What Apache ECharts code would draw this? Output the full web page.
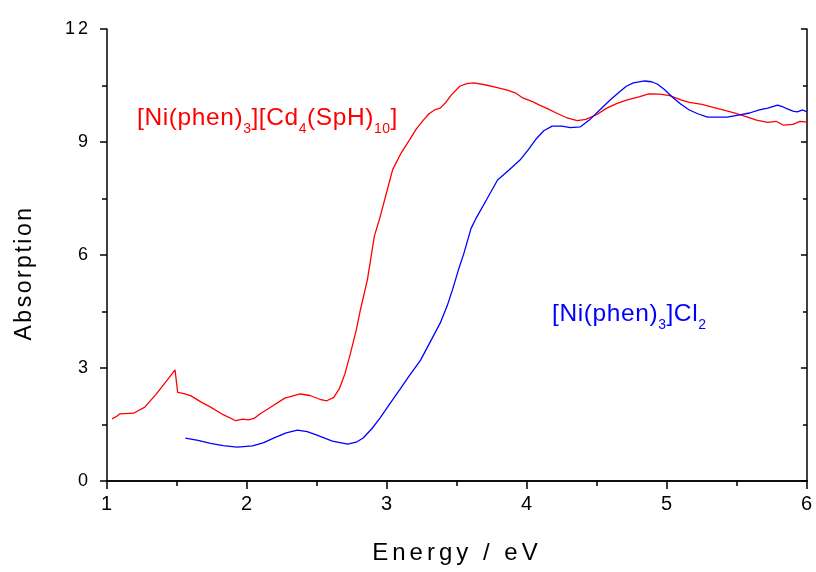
<!DOCTYPE html>
<html><head><meta charset="utf-8">
<script src="https://cdn.jsdelivr.net/npm/echarts@6/dist/echarts.min.js"></script>
<style>html,body{margin:0;padding:0;background:#fff}#c{width:816px;height:572px}</style>
</head><body><div id="c"></div>
<script>
const xTicks = [1, 2, 3, 4, 5, 6];
const yTicks = [0, 3, 6, 9, 12];
const redE = [1.036,1.07,1.09,1.19,1.27,1.35,1.43,1.486,1.505,1.55,1.6,1.67,1.74,1.83,1.92,1.97,2.01,2.05,2.1,2.16,2.27,2.38,2.45,2.52,2.57,2.62,2.66,2.7,2.74,2.78,2.81,2.86,2.91,2.95,3.0,3.04,3.1,3.16,3.21,3.26,3.3,3.34,3.38,3.42,3.46,3.52,3.57,3.62,3.7,3.78,3.86,3.92,3.97,4.04,4.09,4.15,4.21,4.28,4.36,4.42,4.5,4.57,4.64,4.71,4.8,4.87,4.95,5.02,5.1,5.16,5.25,5.33,5.4,5.48,5.56,5.64,5.72,5.78,5.83,5.9,5.95,6.0];
const redA = [1.65,1.72,1.78,1.8,1.96,2.3,2.68,2.95,2.35,2.32,2.26,2.1,1.96,1.76,1.6,1.64,1.62,1.66,1.8,1.94,2.2,2.31,2.27,2.17,2.13,2.22,2.45,2.85,3.4,4.0,4.54,5.34,6.5,7.0,7.7,8.26,8.7,9.05,9.35,9.58,9.75,9.85,9.9,10.05,10.25,10.48,10.55,10.57,10.52,10.45,10.38,10.3,10.17,10.07,9.98,9.88,9.77,9.65,9.57,9.6,9.73,9.9,10.02,10.11,10.2,10.28,10.27,10.23,10.12,10.05,10.0,9.92,9.85,9.77,9.68,9.58,9.52,9.55,9.45,9.47,9.55,9.53];
const blueE = [1.56,1.65,1.74,1.83,1.93,2.04,2.12,2.19,2.28,2.36,2.43,2.5,2.61,2.72,2.78,2.83,2.89,2.95,3.02,3.09,3.16,3.24,3.31,3.38,3.43,3.47,3.51,3.55,3.6,3.64,3.71,3.79,3.87,3.95,4.01,4.07,4.12,4.18,4.25,4.31,4.38,4.45,4.52,4.59,4.66,4.71,4.76,4.84,4.89,4.93,4.98,5.04,5.1,5.16,5.22,5.29,5.36,5.43,5.52,5.59,5.66,5.72,5.79,5.83,5.86,5.9,5.93,5.97,6.0];
const blueA = [1.14,1.08,1.0,0.94,0.9,0.93,1.02,1.14,1.28,1.35,1.31,1.22,1.06,0.98,1.03,1.14,1.38,1.67,2.05,2.42,2.8,3.21,3.7,4.19,4.65,5.1,5.6,6.05,6.7,7.0,7.46,7.99,8.25,8.52,8.8,9.1,9.3,9.42,9.42,9.38,9.4,9.6,9.85,10.1,10.33,10.48,10.57,10.62,10.6,10.54,10.4,10.19,10.0,9.85,9.75,9.66,9.66,9.66,9.72,9.77,9.85,9.9,9.98,9.93,9.88,9.82,9.8,9.85,9.8];

// letter spacing per font size (the reference text is spaced out)
const SPACING = {'24': 4, '23': 2.5, '24.5': 0.6, '14': 0.5, '18': 3, '20': 1};
(function () {
  const proto = CanvasRenderingContext2D.prototype;
  if (!('letterSpacing' in proto)) return;
  const of = proto.fillText, om = proto.measureText;
  function sp(ctx) {
    const m = /([\d.]+)px/.exec(ctx.font);
    const v = m ? SPACING[String(parseFloat(m[1]))] : 0;
    ctx.letterSpacing = (v || 0) + 'px';
  }
  proto.fillText = function () { sp(this); return of.apply(this, arguments); };
  proto.measureText = function () { sp(this); return om.apply(this, arguments); };
})();

const FONT = 'Liberation Sans';
const red = redE.map((e, i) => [e, redA[i]]);
const blue = blueE.map((e, i) => [e, blueA[i]]);
const axLine = {show: true, lineStyle: {color: '#000', width: 1.5}};
function labelRich(color) {
  return {
    n: {fontFamily: FONT, fontSize: 24.5, fill: color, lineHeight: 30, verticalAlign: 'top'},
    s: {fontFamily: FONT, fontSize: 14, fill: color, lineHeight: 16, verticalAlign: 'top', padding: [17, 0, 0, 0]}
  };
}
const chart = echarts.init(document.getElementById('c'), null, {renderer: 'canvas'});
chart.setOption({
  animation: false,
  backgroundColor: '#fff',
  grid: {left: 107, right: 9, top: 29, bottom: 91, containLabel: false},
  xAxis: [
    {type: 'value', position: 'bottom', min: xTicks[0], max: xTicks[xTicks.length-1], interval: 1,
     name: 'Energy / eV', nameLocation: 'middle', nameGap: 58,
     nameTextStyle: {fontFamily: FONT, fontSize: 24, color: '#000'},
     axisLine: axLine, axisTick: {show: true, inside: false, length: 8, lineStyle: {color: '#000', width: 1.5}},
     minorTick: {show: true, splitNumber: 2, length: 5, lineStyle: {color: '#000', width: 1.5}},
     axisLabel: {fontFamily: FONT, fontSize: 20, color: '#000', margin: 13},
     splitLine: {show: false}},
    {type: 'value', position: 'top', min: xTicks[0], max: xTicks[xTicks.length-1], interval: 1,
     axisLine: axLine, axisTick: {show: true, inside: true, length: 6, lineStyle: {color: '#000', width: 1.5}},
     minorTick: {show: true, splitNumber: 2, length: 4, lineStyle: {color: '#000', width: 1.5}},
     axisLabel: {show: false}, splitLine: {show: false}}
  ],
  yAxis: [
    {type: 'value', position: 'left', min: yTicks[0], max: yTicks[yTicks.length-1], interval: 3,
     name: 'Absorption', nameLocation: 'middle', nameGap: 70, nameRotate: 90,
     nameTextStyle: {fontFamily: FONT, fontSize: 23, color: '#000', padding: [0, 36, 0, 0]},
     axisLine: axLine, axisTick: {show: true, inside: false, length: 7, lineStyle: {color: '#000', width: 1.5}},
     minorTick: {show: true, splitNumber: 2, length: 5, lineStyle: {color: '#000', width: 1.5}},
     axisLabel: {fontFamily: FONT, fontSize: 18, color: '#000', margin: 16},
     splitLine: {show: false}},
    {type: 'value', position: 'right', min: yTicks[0], max: yTicks[yTicks.length-1], interval: 3,
     axisLine: axLine, axisTick: {show: true, inside: true, length: 6, lineStyle: {color: '#000', width: 1.5}},
     minorTick: {show: true, splitNumber: 2, length: 4, lineStyle: {color: '#000', width: 1.5}},
     axisLabel: {show: false}, splitLine: {show: false}}
  ],
  series: [
    {type: 'line', name: 'red', data: red, xAxisIndex: 0, yAxisIndex: 0, showSymbol: false,
     lineStyle: {color: '#ff0000', width: 1.3}, itemStyle: {color: '#ff0000'}},
    {type: 'line', name: 'blue', data: blue, xAxisIndex: 0, yAxisIndex: 0, showSymbol: false,
     lineStyle: {color: '#0000ff', width: 1.3}, itemStyle: {color: '#0000ff'}}
  ],
  graphic: [
    {type: 'text', left: 137, top: 105, style: {
      text: '{n|[Ni(phen)}{s|3}{n|][Cd}{s|4}{n|(SpH)}{s|10}{n|]}', rich: labelRich('#ff0000')}},
    {type: 'text', left: 552, top: 301, style: {
      text: '{n|[Ni(phen)}{s|3}{n|]Cl}{s|2}', rich: labelRich('#0000ff')}}
  ]
});
</script></body></html>
